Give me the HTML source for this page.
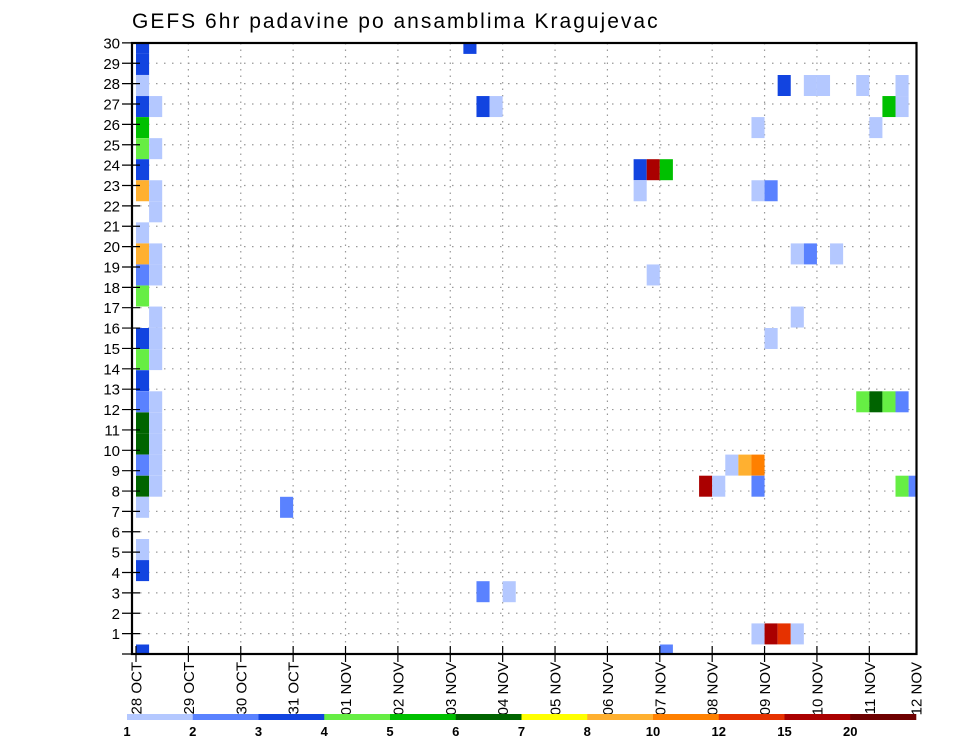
<!DOCTYPE html>
<html><head><meta charset="utf-8"><style>
html,body{margin:0;padding:0;background:#fff;}
svg{display:block;font-family:"Liberation Sans",sans-serif;}
</style></head><body>
<svg id="chart" width="960" height="742" viewBox="0 0 960 742" xmlns="http://www.w3.org/2000/svg">
<defs><clipPath id="plotclip"><rect x="132" y="43" width="785" height="611"/></clipPath></defs>
<text x="132" y="28" font-size="21" letter-spacing="2.0" fill="#000">GEFS 6hr padavine po ansamblima Kragujevac</text>
<g id="grid"></g>
<g id="cells" clip-path="url(#plotclip)"></g>
<g id="axes"></g>
<g id="cbar"></g>
</svg>
<script>
const dayLabels = ["28 OCT","29 OCT","30 OCT","31 OCT","01 NOV","02 NOV","03 NOV","04 NOV","05 NOV","06 NOV","07 NOV","08 NOV","09 NOV","10 NOV","11 NOV","12 NOV"];
const memberTicks = [1,2,3,4,5,6,7,8,9,10,11,12,13,14,15,16,17,18,19,20,21,22,23,24,25,26,27,28,29,30];
const cbarLabels = ["1","2","3","4","5","6","7","8","10","12","15","20"];
const palette = ["#b4c8ff","#5a82ff","#1244e0","#66ee44","#00c000","#006400","#ffff00","#ffb030","#ff8000","#e63200","#aa0000","#6e0000"];
// cells: time step column (6h), ensemble member row, precipitation class
const cellCol = [0,0,0,0,0,0,0,0,0,0,0,0,0,0,0,0,0,0,0,0,0,0,0,0,
 1,1,1,1,1,1,1,1,1,1,1,1,1,1,1,
 25,26,27,49,51,52,55,58,58,57,47,56,38,39,40,38,47,48,50,51,53,39,50,48,55,56,57,58,45,46,47,43,44,47,58,59,11,26,28,47,48,49,50,40];
const cellRow = [30,29,28,27,26,25,24,23,21,20,19,18,15,14,13,12,11,10,9,8,7,5,4,0,
 27,25,23,22,20,19,17,16,15,14,12,11,10,9,8,
 30,27,27,28,28,28,28,28,27,27,26,26,24,24,24,23,23,23,20,20,20,19,17,15,12,12,12,12,9,9,9,8,8,8,8,8,7,3,3,1,1,1,1,0];
const cellCat = [2,2,0,2,4,3,2,7,0,7,1,3,2,3,2,1,5,5,1,5,0,0,2,2,
 0,0,0,0,0,0,0,0,0,0,0,0,0,0,0,
 2,2,0,2,0,0,0,0,0,4,0,0,2,10,4,0,0,1,0,1,0,0,0,0,3,5,3,1,0,7,8,10,0,1,3,1,1,1,0,0,10,9,0,1];

const NS="http://www.w3.org/2000/svg";
const X0=136, DAY=52.38, STEP=DAY/4;
function xDay(d){return X0+d*DAY;}
function xStep(k){return X0+k*STEP;}
function yTick(v){return 654-v*20.37;}
function yCell(v){return v<=15.5 ? 655-21.1*v : 85.5+21.05*(28-v);}
function mk(tag,attrs,parent){const e=document.createElementNS(NS,tag);for(const k in attrs)e.setAttribute(k,attrs[k]);parent.appendChild(e);return e;}

const grid=document.getElementById('grid');
memberTicks.forEach(v=>{
  if(v>=30)return;
  const l=mk('line',{x1:132,x2:916,y1:yTick(v),y2:yTick(v),stroke:'#999','stroke-width':1.2,'stroke-dasharray':'1.5 6.5'},grid);
  
  
});
dayLabels.forEach((t,i)=>{
  if(i===0||i===15)return;
  const l=mk('line',{x1:xDay(i),x2:xDay(i),y1:43,y2:654,stroke:'#999','stroke-width':1.2,'stroke-dasharray':'1.5 5'},grid);
  
  
});

const cells=document.getElementById('cells');
cellCol.forEach((c,i)=>{
  const r=mk('rect',{x:xStep(c),y:yCell(cellRow[i])-10.5,width:STEP,height:21,fill:palette[cellCat[i]]},cells);
  
  
});

const axes=document.getElementById('axes');
const frame=mk('rect',{x:132,y:43,width:784.5,height:611,fill:'none',stroke:'#000','stroke-width':2.2},axes);


[0].concat(memberTicks).forEach(v=>{
  const tk=mk('line',{x1:122,x2:140,y1:yTick(v),y2:yTick(v),stroke:'#000','stroke-width':1.2},axes);
  
  
  if(v===0)return;
  const t=mk('text',{x:120,y:yTick(v)+5.5,'text-anchor':'end','font-size':15,fill:'#000'},axes);
  t.textContent=v;
  
  
});
dayLabels.forEach((lab,i)=>{
  const x=xDay(i)>916?916:xDay(i);
  if(i<15){
    const tk=mk('line',{x1:x,x2:x,y1:646,y2:662,stroke:'#000','stroke-width':1.2},axes);
    
    
  }
  const t=mk('text',{x:0,y:0,'text-anchor':'end','font-size':15,fill:'#000',transform:`translate(${x+5.5},662) rotate(-90)`},axes);
  t.textContent=lab;
  
  
});

const cbar=document.getElementById('cbar');
const CB0=127, CBW=(916-127)/12;
palette.forEach((col,i)=>{
  const r=mk('rect',{x:CB0+i*CBW,y:714,width:CBW+0.3,height:6,fill:col},cbar);
  
  
});
cbarLabels.forEach((lab,i)=>{
  const t=mk('text',{x:CB0+i*CBW,y:736,'text-anchor':'middle','font-size':13,'font-weight':'bold',fill:'#000'},cbar);
  t.textContent=lab;
  
  
});
</script>
</body></html>
